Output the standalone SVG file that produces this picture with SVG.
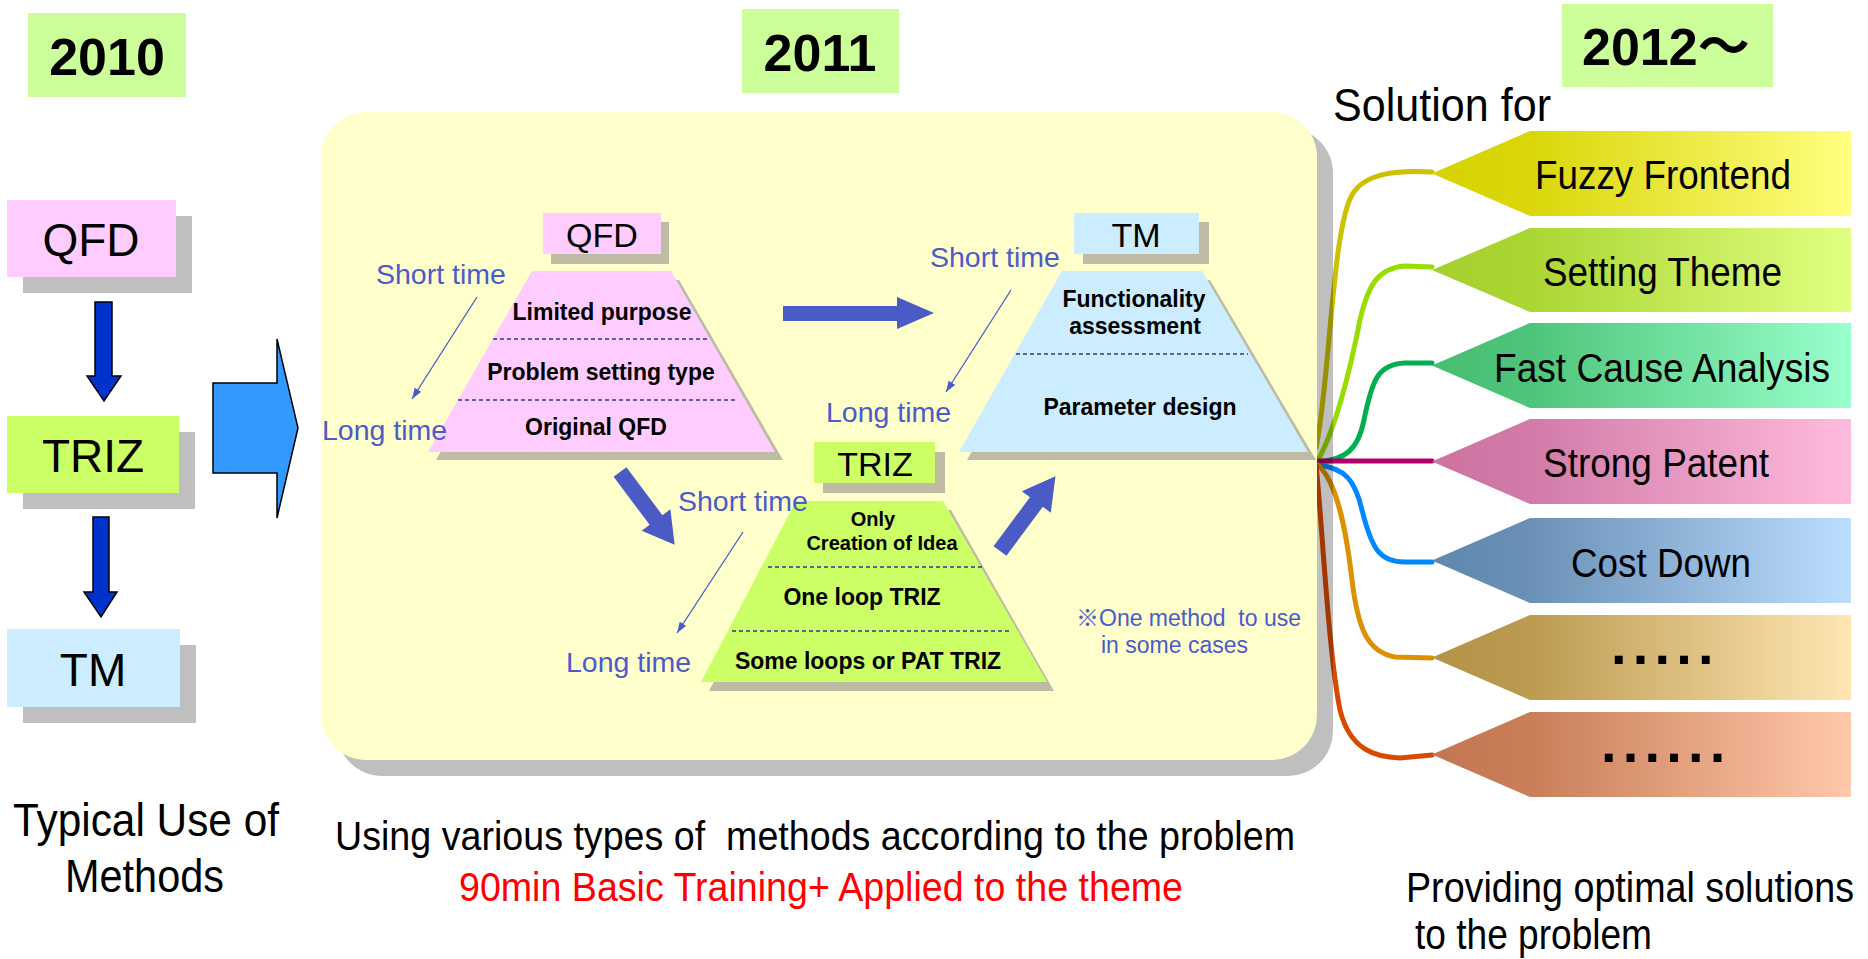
<svg xmlns="http://www.w3.org/2000/svg" width="1868" height="959" viewBox="0 0 1868 959">
<style>
  text { font-family: "Liberation Sans", Arial, "Noto Sans CJK JP", sans-serif; }
  .yr { font-weight: bold; font-size: 52px; fill: #000; }
  .big { font-size: 46px; fill: #000; }
  .lab { font-size: 34px; fill: #000; }
  .tz { font-weight: bold; font-size: 23px; fill: #000; text-anchor: middle; }
  .tz2 { font-weight: bold; font-size: 20px; fill: #000; text-anchor: middle; }
  .bt { font-size: 28.5px; fill: #4B5BC9; }
  .note { font-size: 23px; fill: #4B5BC9; }
  .nar { font-family: "Liberation Sans Narrow", "Liberation Sans", Arial, sans-serif; fill: #000; }
  .dots { font-weight: bold; font-size: 56px; fill: #000; letter-spacing: 6.2px; }
  .dash { stroke: #333399; stroke-width: 1.3; stroke-dasharray: 4 3; fill: none; }
  .thin { stroke: #4B5BC9; stroke-width: 1.3; fill: none; marker-end: url(#sm); }
  .thick { fill: #4B5BC6; }
  .pshadow { fill: #BDBBA4; }
  .gshadow { fill: #BFBFBF; }
  .conn { fill: none; stroke-width: 5; stroke-linecap: round; }
</style>
<defs>
  <marker id="sm" viewBox="0 0 10 7" refX="10" refY="3.5" markerWidth="11" markerHeight="8" markerUnits="userSpaceOnUse" orient="auto">
    <path d="M0,0 L10,3.5 L0,7 Z" fill="#4B5BC9"/>
  </marker>
  <linearGradient id="g1" x1="0" y1="0" x2="1" y2="0"><stop offset="0" stop-color="#D6D300"/><stop offset="0.23" stop-color="#DAD60A"/><stop offset="1" stop-color="#FFFF80"/></linearGradient>
  <linearGradient id="g2" x1="0" y1="0" x2="1" y2="0"><stop offset="0" stop-color="#A5D030"/><stop offset="0.23" stop-color="#AAD633"/><stop offset="1" stop-color="#E0FF80"/></linearGradient>
  <linearGradient id="g3" x1="0" y1="0" x2="1" y2="0"><stop offset="0" stop-color="#48BE72"/><stop offset="0.23" stop-color="#4EC47A"/><stop offset="1" stop-color="#99FFCC"/></linearGradient>
  <linearGradient id="g4" x1="0" y1="0" x2="1" y2="0"><stop offset="0" stop-color="#CC73A0"/><stop offset="0.23" stop-color="#D27AA8"/><stop offset="1" stop-color="#FFBBDD"/></linearGradient>
  <linearGradient id="g5" x1="0" y1="0" x2="1" y2="0"><stop offset="0" stop-color="#5F88AF"/><stop offset="0.23" stop-color="#6A90B6"/><stop offset="1" stop-color="#BBDDFF"/></linearGradient>
  <linearGradient id="g6" x1="0" y1="0" x2="1" y2="0"><stop offset="0" stop-color="#B39347"/><stop offset="0.23" stop-color="#BC9A50"/><stop offset="1" stop-color="#FFE6B3"/></linearGradient>
  <linearGradient id="g7" x1="0" y1="0" x2="1" y2="0"><stop offset="0" stop-color="#C27653"/><stop offset="0.23" stop-color="#C97D58"/><stop offset="1" stop-color="#FFC8AA"/></linearGradient>
</defs>

<rect width="1868" height="959" fill="#FFFFFF"/>

<!-- year headings -->
<g id="year-2010">
  <rect x="28" y="13" width="158" height="84" fill="#CCFF99"/>
  <text class="yr" x="107" y="75" text-anchor="middle">2010</text>
</g>
<g id="year-2011">
  <rect x="742" y="9" width="157" height="84" fill="#CCFF99"/>
  <text class="yr" x="820" y="71" text-anchor="middle">2011</text>
</g>
<g id="year-2012">
  <rect x="1562" y="4" width="211" height="83" fill="#CCFF99"/>
  <text class="yr" x="1582" y="65">2012～</text>
</g>

<!-- left column: typical use -->
<g id="left-qfd">
  <rect class="gshadow" x="23" y="216" width="169" height="77"/>
  <rect x="7" y="200" width="169" height="77" fill="#FFCCFF"/>
  <text class="big" x="91" y="256" text-anchor="middle">QFD</text>
</g>
<g id="left-triz">
  <rect class="gshadow" x="23" y="432" width="172" height="77"/>
  <rect x="7" y="416" width="172" height="77" fill="#CCFF66"/>
  <text class="big" x="93" y="472" text-anchor="middle">TRIZ</text>
</g>
<g id="left-tm">
  <rect class="gshadow" x="23" y="645" width="173" height="78"/>
  <rect x="7" y="629" width="173" height="78" fill="#CCECFF"/>
  <text class="big" x="93" y="686" text-anchor="middle">TM</text>
</g>
<g id="left-caption">
  <text class="nar" font-size="47" x="13" y="836" textLength="266" lengthAdjust="spacingAndGlyphs">Typical Use of</text>
  <text class="nar" font-size="47" x="65" y="892" textLength="159" lengthAdjust="spacingAndGlyphs">Methods</text>
</g>

<!-- connectors -->
<g id="connectors">
  <polygon points="95,302 112,302 112,376 121,376 104,401 87,376 95,376" fill="#0033CC" stroke="#000" stroke-width="1.5"/>
  <polygon points="93,517 109,517 109,592 117,592 101,617 84,592 93,592" fill="#0033CC" stroke="#000" stroke-width="1.5"/>
  <polygon points="213,383 277,383 277,339 298,428 277,518 277,473 213,473" fill="#3399FF" stroke="#000" stroke-width="1.5"/>
  <!-- solution branches -->
  <path class="conn" stroke="#CCC000" d="M1316,448 C1330,380 1332,230 1352,195 C1365,172 1400,170 1432,172"/>
  <path class="conn" stroke="#99DD00" d="M1318,460 C1335,430 1350,370 1360,320 C1368,285 1378,268 1405,266 L1432,267"/>
  <path class="conn" stroke="#00B050" d="M1318,462 C1345,460 1358,450 1364,420 C1372,380 1378,364 1405,363 L1432,363"/>
  <path class="conn" stroke="#B0006A" d="M1318,461 L1432,461"/>
  <path class="conn" stroke="#0088FF" d="M1318,465 C1345,468 1355,480 1362,510 C1372,550 1380,562 1405,562 L1432,562"/>
  <path class="conn" stroke="#DD9000" d="M1318,465 C1335,480 1345,520 1352,580 C1358,630 1368,652 1395,657 L1432,658"/>
  <path class="conn" stroke="#D84A00" d="M1316,465 C1322,520 1328,650 1340,710 C1350,750 1375,757 1400,758 L1432,755"/>
</g>

<!-- 2011 panel -->
<g id="panel">
  <rect x="337" y="128" width="996" height="648" rx="45" fill="#000" fill-opacity="0.25"/>
  <rect x="321" y="112" width="996" height="648" rx="45" fill="#FFFFCC"/>
</g>

<g id="panel-arrows">
  <polygon class="thick" points="783,306 897,306 897,297 934,313 897,329 897,321 783,321"/>
  <path class="thick" transform="translate(620,472) rotate(53.1)" d="M0,-8 L60,-8 L60,-18 L91,0 L60,18 L60,8 L0,8 Z"/>
  <path class="thick" transform="translate(1000,551) rotate(-53.4)" d="M0,-8 L61,-8 L61,-18 L93,0 L61,18 L61,8 L0,8 Z"/>
</g>

<g id="qfd-method">
  <rect class="pshadow" x="551" y="222" width="118" height="42"/>
  <rect x="543" y="213" width="118" height="41" fill="#FFCCFF"/>
  <text class="lab" x="602" y="247" text-anchor="middle">QFD</text>
  <polygon class="pshadow" points="540,280 679,280 783,460 436,460"/>
  <polygon points="532,271 671,271 775,452 428,452" fill="#FFCCFF"/>
  <line class="dash" x1="493" y1="339" x2="709" y2="339"/>
  <line class="dash" x1="458" y1="400" x2="738" y2="400"/>
  <text class="tz" x="602" y="320">Limited purpose</text>
  <text class="tz" x="601" y="380">Problem setting type</text>
  <text class="tz" x="596" y="435">Original QFD</text>
  <text class="bt" x="376" y="284">Short time</text>
  <text class="bt" x="322" y="440">Long time</text>
  <line class="thin" x1="477" y1="297" x2="412" y2="399"/>
</g>

<g id="tm-method">
  <rect class="pshadow" x="1083" y="222" width="126" height="42"/>
  <rect x="1074" y="213" width="125" height="41" fill="#CCECFF"/>
  <text class="lab" x="1136" y="247" text-anchor="middle">TM</text>
  <polygon class="pshadow" points="1070,280 1210,280 1316,460 967,460"/>
  <polygon points="1062,271 1202,271 1308,452 959,452" fill="#CCECFF"/>
  <line class="dash" x1="1016" y1="354" x2="1248" y2="354"/>
  <text class="tz" x="1134" y="307">Functionality</text>
  <text class="tz" x="1135" y="334">assessment</text>
  <text class="tz" x="1140" y="415">Parameter design</text>
  <text class="bt" x="930" y="267">Short time</text>
  <text class="bt" x="826" y="422">Long time</text>
  <line class="thin" x1="1011" y1="290" x2="946" y2="392"/>
</g>

<g id="triz-method">
  <rect class="pshadow" x="823" y="452" width="122" height="41"/>
  <rect x="814" y="442" width="121" height="41" fill="#CCFF66"/>
  <text class="lab" x="875" y="476" text-anchor="middle">TRIZ</text>
  <polygon class="pshadow" points="804,510 951,510 1054,691 709,691"/>
  <polygon points="796,501 943,501 1047,682 701,682" fill="#CCFF66"/>
  <line class="dash" x1="768" y1="567" x2="983" y2="567"/>
  <line class="dash" x1="732" y1="631" x2="1011" y2="631"/>
  <text class="tz2" x="873" y="526">Only</text>
  <text class="tz2" x="882" y="550">Creation of Idea</text>
  <text class="tz" x="862" y="605">One loop TRIZ</text>
  <text class="tz" x="868" y="669">Some loops or PAT TRIZ</text>
  <text class="bt" x="678" y="511">Short time</text>
  <text class="bt" x="566" y="672">Long time</text>
  <line class="thin" x1="743" y1="532" x2="677" y2="633"/>
</g>

<g id="panel-note">
  <text class="note" x="1076" y="626" xml:space="preserve">※One method  to use</text>
  <text class="note" x="1101" y="653">in some cases</text>
</g>

<g id="panel-caption">
  <text class="nar" font-size="40" x="335" y="850" textLength="960" lengthAdjust="spacingAndGlyphs" xml:space="preserve">Using various types of  methods according to the problem</text>
  <text class="nar" font-size="40" x="459" y="901" textLength="724" lengthAdjust="spacingAndGlyphs" style="fill:#FF0000">90min Basic Training+ Applied to the theme</text>
</g>

<!-- 2012 solutions -->
<g id="solutions-title">
  <text class="nar" font-size="46" x="1333" y="121" textLength="218" lengthAdjust="spacingAndGlyphs">Solution for</text>
</g>
<g id="sol-fuzzy">
  <polygon points="1432,173.5 1530,131 1851,131 1851,216 1530,216" fill="url(#g1)"/>
  <text class="nar" font-size="41" x="1535" y="189" textLength="256" lengthAdjust="spacingAndGlyphs">Fuzzy Frontend</text>
</g>
<g id="sol-theme">
  <polygon points="1432,270 1530,228 1851,228 1851,312 1530,312" fill="url(#g2)"/>
  <text class="nar" font-size="41" x="1543" y="286" textLength="239" lengthAdjust="spacingAndGlyphs">Setting Theme</text>
</g>
<g id="sol-cause">
  <polygon points="1432,365.5 1530,323 1851,323 1851,408 1530,408" fill="url(#g3)"/>
  <text class="nar" font-size="41" x="1494" y="382" textLength="336" lengthAdjust="spacingAndGlyphs">Fast Cause Analysis</text>
</g>
<g id="sol-patent">
  <polygon points="1432,461.5 1530,419 1851,419 1851,504 1530,504" fill="url(#g4)"/>
  <text class="nar" font-size="41" x="1543" y="477" textLength="226" lengthAdjust="spacingAndGlyphs">Strong Patent</text>
</g>
<g id="sol-cost">
  <polygon points="1432,560.5 1530,518 1851,518 1851,603 1530,603" fill="url(#g5)"/>
  <text class="nar" font-size="41" x="1571" y="577" textLength="180" lengthAdjust="spacingAndGlyphs">Cost Down</text>
</g>
<g id="sol-more1">
  <polygon points="1432,657.5 1530,615 1851,615 1851,700 1530,700" fill="url(#g6)"/>
  <text class="dots" x="1611" y="664">.....</text>
</g>
<g id="sol-more2">
  <polygon points="1432,754.5 1530,712 1851,712 1851,797 1530,797" fill="url(#g7)"/>
  <text class="dots" x="1601" y="762">......</text>
</g>
<g id="solutions-caption">
  <!-- natural width kept inside the canvas; vertical scale restores the cap height -->
  <text class="nar" font-size="37" transform="translate(1406,902) scale(1,1.135)" x="0" y="0" textLength="448" lengthAdjust="spacingAndGlyphs">Providing optimal solutions</text>
  <text class="nar" font-size="37" transform="translate(1415,949) scale(1,1.135)" x="0" y="0" textLength="237" lengthAdjust="spacingAndGlyphs">to the problem</text>
</g>
</svg>
